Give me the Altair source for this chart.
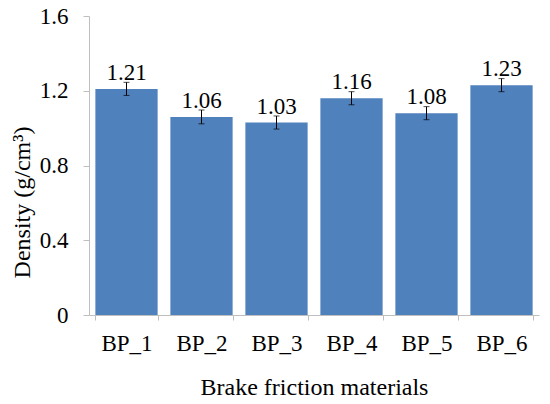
import altair as alt
import pandas as pd

categories = ["BP_1", "BP_2", "BP_3", "BP_4", "BP_5", "BP_6"]
density = [1.21, 1.06, 1.03, 1.16, 1.08, 1.23]
errors = [0.035, 0.037, 0.035, 0.035, 0.035, 0.035]
labels = ["1.21", "1.06", "1.03", "1.16", "1.08", "1.23"]

df = pd.DataFrame({
    "cat": categories,
    "val": density,
    "lo": [v - e for v, e in zip(density, errors)],
    "hi": [v + e for v, e in zip(density, errors)],
    "lab": labels,
})

FONT = "Liberation Serif"
AX = "#BFBFBF"
FS = 23
TS = 24

x = alt.X("cat:N", sort=categories, title="Brake friction materials",
          scale=alt.Scale(paddingInner=0.17, paddingOuter=0.085),
          axis=alt.Axis(labelAngle=0, tickBand="extent", domainColor=AX, tickColor=AX,
                        tickSize=5, labelPadding=30, labelBaseline="alphabetic",
                        labelFontSize=FS, labelFont=FONT,
                        labelColor="black", titleFont=FONT, titleFontSize=TS,
                        titleFontWeight="normal", titleColor="black",
                        titleY=79, titleBaseline="alphabetic"))
y = alt.Y("val:Q", title="Density (g/cm³)",
          scale=alt.Scale(domain=[0, 1.6], nice=False),
          axis=alt.Axis(values=[0, 0.4, 0.8, 1.2, 1.6], format="~g", grid=False,
                        domainColor=AX, tickColor=AX, tickSize=6, labelPadding=15,
                        labelFontSize=FS, labelFont=FONT, labelColor="black",
                        titleFont=FONT, titleFontSize=TS, titleFontWeight="normal",
                        titleColor="black", titleX=-60, titleY=186,
                        titleBaseline="alphabetic"))

bars = alt.Chart(df).mark_bar(color="#4F81BD").encode(x=x, y=y)

err = alt.Chart(df).mark_rule(color="black", strokeWidth=1).encode(
    x=alt.X("cat:N", sort=categories), y="lo:Q", y2="hi:Q")
cap_lo = alt.Chart(df).mark_tick(color="black", size=6, thickness=1).encode(
    x=alt.X("cat:N", sort=categories), y="lo:Q")
cap_hi = alt.Chart(df).mark_tick(color="black", size=6, thickness=1).encode(
    x=alt.X("cat:N", sort=categories), y="hi:Q")

text = alt.Chart(df).mark_text(font=FONT, fontSize=FS, color="black", dy=-9,
                               baseline="alphabetic").encode(
    x=alt.X("cat:N", sort=categories), y="val:Q", text="lab:N")

chart = alt.layer(bars, err, cap_lo, cap_hi, text).properties(
    width=450, height=299,
    autosize=alt.AutoSizeParams(type="none"),
    padding={"left": 81, "top": 8, "right": 3, "bottom": 88},
).configure_view(stroke=None)

chart.save("out.html", embed_options={"renderer": "svg", "actions": False})
